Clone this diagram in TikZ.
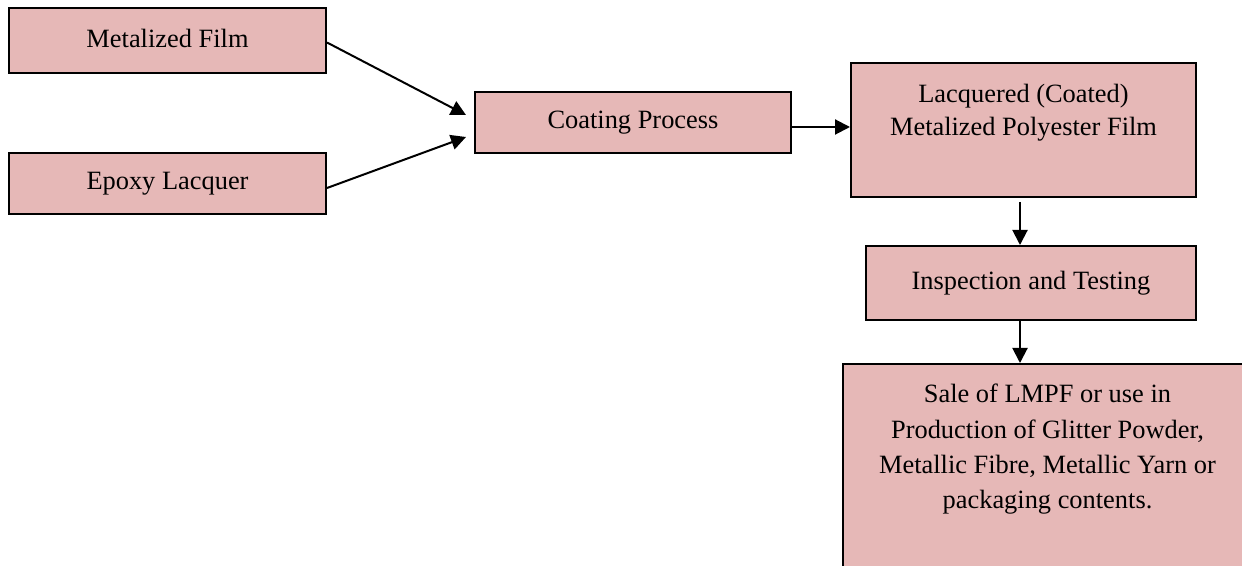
\documentclass[tikz,border=0pt]{standalone}
\usepackage{fontspec}
\setmainfont{Liberation Serif}
\usetikzlibrary{arrows.meta}
\definecolor{boxfill}{HTML}{E6B8B7}
\begin{document}
\begin{tikzpicture}[x=0.5pt,y=-0.5pt,
  box/.style={draw=black, line width=1pt, fill=boxfill, rectangle, inner sep=0pt,
    font=\fontsize{13.2pt}{17pt}\selectfont, align=center},
  lbl/.style={font=\fontsize{13.2pt}{17pt}\selectfont, align=center, inner sep=0pt, anchor=base},
  arr/.style={-{Triangle[length=7.5pt,width=7.5pt]}, line width=1pt}]
\useasboundingbox (0,0) rectangle (1242,566);
\node[box, minimum width=158.5pt, minimum height=32.5pt, text depth=2pt] (mf) at (167.5,40.5) {Metalized Film};
\node[box, minimum width=158.5pt, minimum height=30.5pt] (ep) at (167.5,183.5) {Epoxy Lacquer};
\node[box, minimum width=158pt, minimum height=30.5pt] (cp) at (633,122.5) {Coating Process};
\node[box, minimum width=172.5pt, minimum height=67pt] (lq) at (1023.5,130) {};
\node[lbl, font=\fontsize{13.2pt}{16.5pt}\selectfont] (lqt) at (1023.5,136) {Lacquered (Coated)\\Metalized Polyester Film};
\node[box, minimum width=165pt, minimum height=37pt] (it) at (1031,283) {Inspection and Testing};
\node[box, minimum width=204pt, minimum height=128pt] (sale) at (1047,492) {};
\node[lbl, font=\fontsize{13.2pt}{17.75pt}\selectfont] (salet) at (1047.5,509) {Sale of LMPF or use in\\Production of Glitter Powder,\\Metallic Fibre, Metallic Yarn or\\packaging contents.};
\draw[arr] ([yshift=-1pt]mf.east) -- ([shift={(-8,-7.5)}]cp.west);
\draw[arr] ([yshift=-2.25pt]ep.east) -- ([shift={(-8,14.5)}]cp.west);
\draw[arr] ([yshift=-2.25pt]cp.east) -- ([yshift=-2.25pt]cp.east -| lq.west);
\draw[arr] ([shift={(-3.5,4)}]lq.south) -- (it.north -| 1020,0);
\draw[arr] (it.south -| 1020,0) -- (sale.north -| 1020,0);
\end{tikzpicture}
\end{document}
